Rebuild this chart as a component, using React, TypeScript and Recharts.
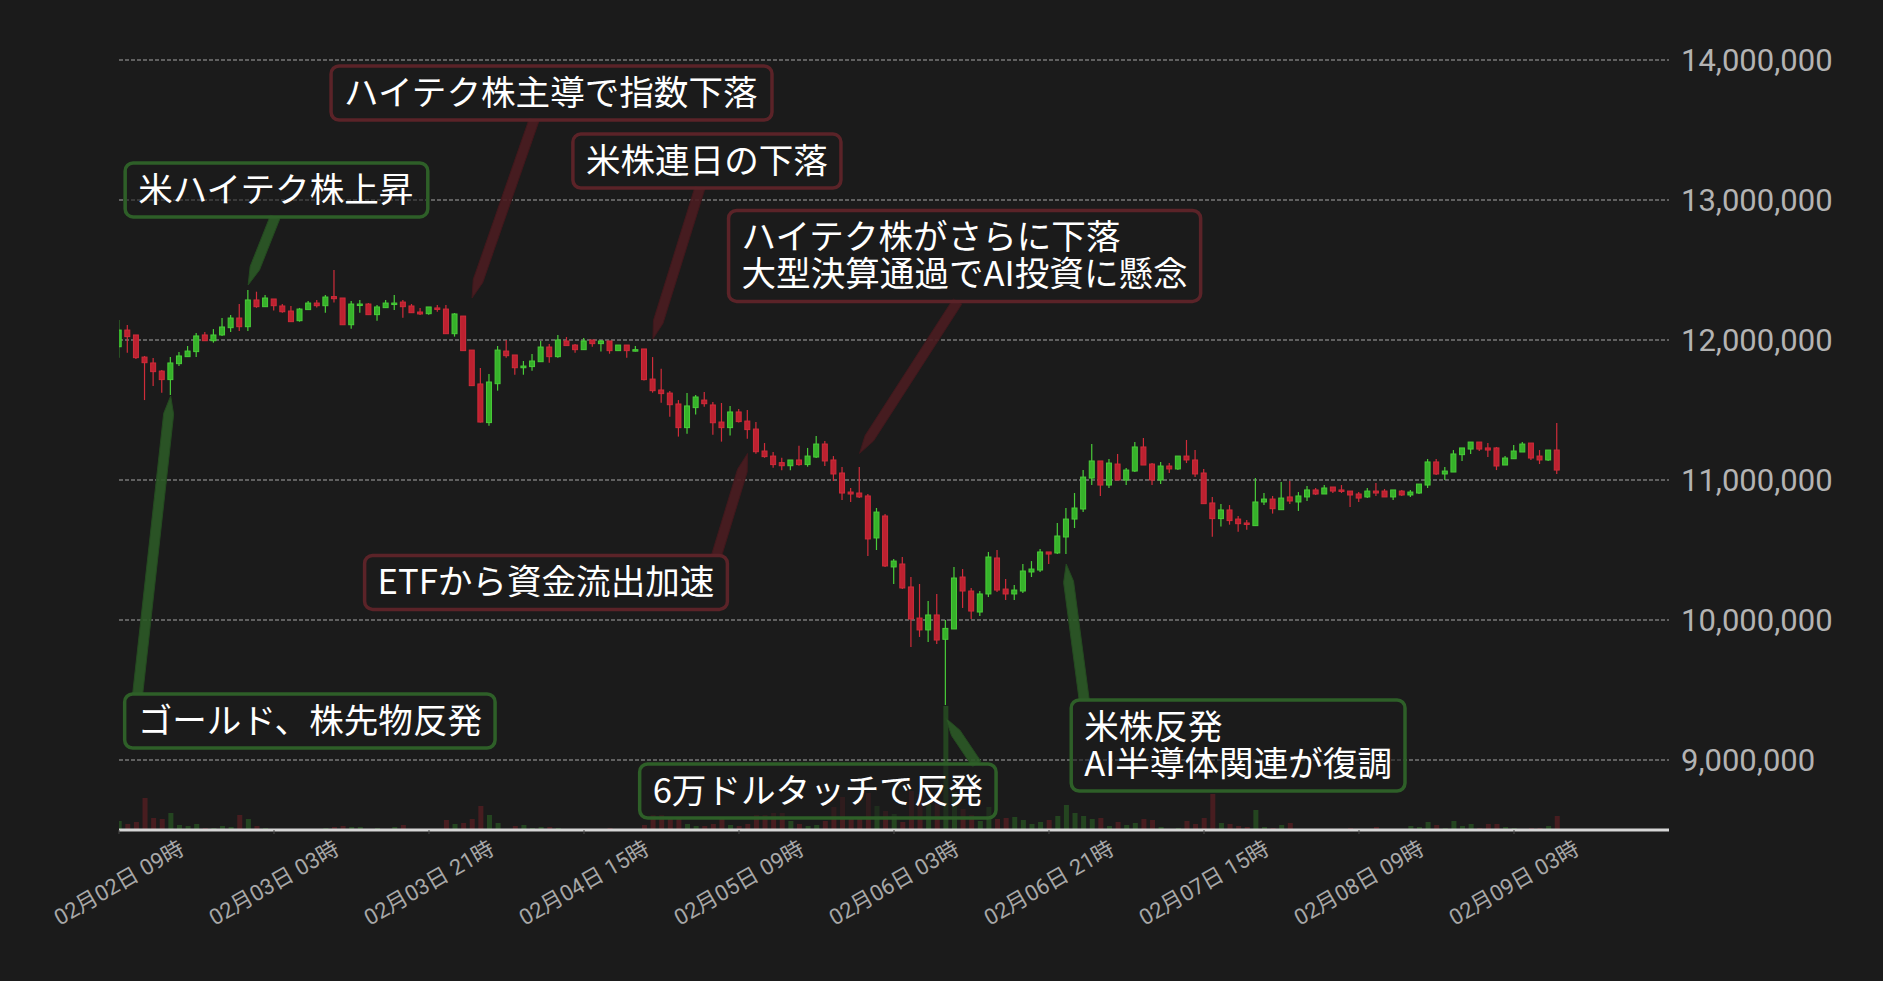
import React from 'react';
import { ComposedChart, Bar, XAxis, YAxis, CartesianGrid, ReferenceDot } from 'recharts';

// Prices in thousands of yen, one candle per hour starting 02月02日 09時
const OPEN = [11952,12071,12036,11878,11836,11778,11717,11831,11881,11917,12036,11995,12036,12088,12157,12095,12286,12238,12293,12243,12207,12138,12217,12264,12245,12310,12300,12109,12255,12257,12181,12231,12262,12271,12243,12200,12188,12229,12221,12045,12171,11928,11686,11410,11688,11921,11893,11802,11810,11845,11950,11881,11993,11964,11931,12000,11974,11993,11924,11964,11924,11936,11721,11643,11621,11543,11374,11517,11571,11536,11414,11374,11486,11421,11364,11207,11171,11124,11102,11143,11110,11164,11257,11143,11050,10914,10907,10886,10586,10743,10379,10400,10236,10014,9929,10036,9862,9936,10307,10207,10057,10186,10443,10221,10186,10207,10343,10357,10486,10479,10593,10721,10793,11014,11136,10964,11114,11000,11064,11236,11114,11000,11100,11079,11171,11143,11050,10836,10724,10786,10721,10693,10674,10843,10864,10788,10879,10843,10879,10929,10900,10950,10929,10921,10900,10879,10921,10921,10879,10921,10893,10907,10964,11129,11043,11057,11181,11221,11271,11229,11229,11107,11152,11200,11264,11171,11143,11214];
const HIGH = [12143,12107,12036,11886,11871,11786,11879,11914,11957,12050,12057,12078,12157,12179,12257,12357,12345,12321,12293,12257,12243,12229,12279,12286,12321,12500,12300,12279,12286,12264,12250,12286,12321,12286,12257,12229,12236,12250,12250,12193,12171,11928,11800,11757,11957,12000,11893,11850,11900,11993,11971,12036,12021,11971,12014,12000,12000,11993,11964,11964,11957,11936,11878,11795,11636,11571,11621,11607,11629,11557,11550,11529,11507,11500,11414,11264,11200,11159,11143,11245,11229,11314,11279,11171,11093,10943,11093,10900,10800,10757,10436,10450,10307,10257,10136,10186,10000,10379,10364,10229,10207,10486,10500,10293,10250,10400,10421,10507,10486,10693,10800,10907,11071,11257,11136,11150,11186,11086,11271,11300,11121,11129,11121,11171,11286,11214,11079,10879,10829,10821,10743,10714,11014,10907,10886,10986,10993,10914,10957,10943,10964,10950,10964,10921,10914,10943,10979,10936,10929,10929,10929,10971,11150,11150,11093,11214,11229,11271,11271,11264,11236,11171,11250,11271,11264,11214,11214,11407];
const LOW = [11874,11909,11864,11571,11671,11624,11607,11814,11881,11879,11995,11981,12029,12057,12064,12064,12230,12238,12210,12195,12131,12131,12217,12233,12195,12267,12109,12081,12195,12181,12138,12231,12214,12159,12195,12179,12181,12202,12045,12024,11924,11674,11410,11388,11638,11874,11752,11752,11781,11845,11838,11874,11960,11909,11931,11952,11917,11902,11924,11874,11917,11710,11624,11552,11452,11310,11331,11467,11524,11324,11274,11317,11410,11295,11188,11159,11088,11070,11070,11102,11095,11157,11100,10993,10857,10843,10871,10457,10500,10379,10257,10221,9807,9879,9843,9829,9393,9936,10086,10007,10029,10164,10200,10143,10143,10193,10307,10343,10400,10471,10471,10657,10771,10964,10886,10943,11000,10964,11057,11107,10964,10971,11050,11071,11121,11021,10831,10595,10667,10681,10631,10645,10674,10821,10760,10788,10829,10779,10850,10893,10900,10907,10907,10807,10843,10871,10886,10879,10857,10886,10879,10900,10943,11036,11000,11057,11136,11186,11207,11164,11071,11107,11152,11200,11143,11114,11136,11043];
const CLOSE = [12071,12024,11874,11838,11774,11717,11836,11886,11921,12029,11995,12036,12093,12157,12095,12286,12238,12300,12245,12202,12131,12221,12264,12245,12307,12295,12109,12257,12257,12181,12236,12264,12264,12238,12195,12186,12236,12224,12045,12186,11924,11674,11414,11700,11928,11888,11802,11814,11850,11950,11881,12000,11960,11931,11993,11974,11993,11924,11964,11924,11931,11717,11638,11617,11538,11374,11529,11593,11545,11409,11374,11486,11417,11360,11202,11167,11110,11102,11143,11110,11171,11257,11136,11043,10907,10900,10879,10579,10771,10386,10421,10229,10007,9929,10036,9857,9940,10300,10207,10064,10186,10450,10214,10186,10214,10350,10364,10486,10471,10600,10721,10800,11021,11136,10964,11121,11000,11071,11236,11107,11000,11100,11079,11171,11143,11043,10831,10724,10786,10710,10688,10688,10843,10864,10795,10871,10850,10886,10929,10900,10943,10921,10921,10893,10871,10921,10907,10879,10929,10893,10914,10971,11129,11043,11064,11186,11229,11271,11221,11214,11100,11157,11207,11257,11157,11143,11214,11071];
const VOLUME = [9,6,8,32,12,11,17,5,4,6,2,2,4,3,15,11,4,2,1,0.5,1,1,0.5,1,2,3,4,3,3,1,2,1,3,5,0.5,1,1,1,10,6,7,11,24,15,7,1,4,5,2,3,3,2,0.5,1,1,1,1,2,1,1,1,5,15,15,11,11,6,4,4,6,11,5,4,6,15,15,17,17,9,6,4,5,9,23,33,12,12,37,24,19,16,8,39,36,26,29,124,38,21,15,9,23,11,12,13,10,6,8,10,14,25,17,14,11,12,4,8,5,7,11,10,3,1,2,9,6,12,36,7,6,4,3,20,3,2,5,7,0.5,1,0.5,0.5,1,0.5,2,0.5,1,3,1,0.5,0.5,4,3,8,5,2,9,4,6,2,6,6,3,2,0.5,2,2,4,14];
const PRICE_UNIT = 1000;

const TICK_HOURS = [0, 18, 36, 54, 72, 90, 108, 126, 144, 162];
const TICK_LABELS = ['02月02日 09時', '02月03日 03時', '02月03日 21時', '02月04日 15時', '02月05日 09時', '02月06日 03時', '02月06日 21時', '02月07日 15時', '02月08日 09時', '02月09日 03時'];
const PRICE_TICKS = [9000000, 10000000, 11000000, 12000000, 13000000, 14000000];

const NOTE_LINES = [
  ['米ハイテク株上昇'],
  ['ハイテク株主導で指数下落'],
  ['米株連日の下落'],
  ['ハイテク株がさらに下落', '大型決算通過でAI投資に懸念'],
  ['ETFから資金流出加速'],
  ['ゴールド、株先物反発'],
  ['6万ドルタッチで反発'],
  ['米株反発', 'AI半導体関連が復調'],
];
const NOTE_HOUR = [15, 41, 62, 86, 73, 6, 96, 110];
const NOTE_PRICE = [12393000, 12300000, 12007000, 11190000, 11190000, 11600000, 9300000, 10400000];
const NOTE_KIND = ['up', 'down', 'down', 'down', 'down', 'up', 'up', 'up'];

// layout of the callout boxes (pixel offsets from the pointed spot)
const NOTE_LAYOUT = [
  { dx: -123, dy: -122, side: 'bottom', bx: 150 },
  { dx: -141, dy: -232, side: 'bottom', bx: 203 },
  { dx: -80, dy: -205, side: 'bottom', bx: 127 },
  { dx: -131, dy: -243, side: 'bottom', bx: 229 },
  { dx: -383, dy: 102, side: 'top', bx: 352 },
  { dx: -46, dy: 298, side: 'top', bx: 13 },
  { dx: -306, dy: 46, side: 'top', bx: 337 },
  { dx: 5, dy: 136, side: 'top', bx: 13 },
];

const BG = '#1b1b1b';
const UP_FILL = '#36b22a';
const UP_EDGE = '#49cc39';
const DOWN_FILL = '#bd2130';
const DOWN_EDGE = '#d02c3a';
const CJK = "'Noto Sans CJK JP', 'Noto Sans', sans-serif";
const NUM_FONT = "Roboto, 'Noto Sans CJK JP', sans-serif";
const NOTE_SIZE = 34.6;
const PAD_X = 13;
const PAD_Y = 8.5;
const LINE_H = 37;

const rows = OPEN.map((o, i) => ({
  t: i,
  open: o * PRICE_UNIT,
  high: HIGH[i] * PRICE_UNIT,
  low: LOW[i] * PRICE_UNIT,
  close: CLOSE[i] * PRICE_UNIT,
  range: [LOW[i] * PRICE_UNIT, HIGH[i] * PRICE_UNIT],
  vol: VOLUME[i],
  up: CLOSE[i] >= o,
}));

let measureCtx: CanvasRenderingContext2D | null = null;
function measure(s: string): number {
  if (!measureCtx && typeof document !== 'undefined') {
    measureCtx = document.createElement('canvas').getContext('2d');
  }
  if (measureCtx) {
    measureCtx.font = `${NOTE_SIZE}px "Noto Sans CJK JP"`;
    return measureCtx.measureText(s).width;
  }
  return s.length * NOTE_SIZE;
}

const Candle = (props: any) => {
  const { x, y, width, height, payload } = props;
  if (x == null || y == null || !payload) return null;
  const span = payload.high - payload.low;
  const k = span > 0 ? height / span : 0;
  const top = Math.max(payload.open, payload.close);
  const bot = Math.min(payload.open, payload.close);
  const by = y + (payload.high - top) * k;
  const bh = Math.max((top - bot) * k, 1.5);
  const cx = x + width / 2;
  const fill = payload.up ? UP_FILL : DOWN_FILL;
  const edge = payload.up ? UP_EDGE : DOWN_EDGE;
  return (
    <g>
      <line x1={cx} x2={cx} y1={y} y2={y + height} stroke={edge} strokeWidth={1.2} />
      <rect x={x + 0.5} y={by} width={width - 1} height={bh} fill={fill} stroke={edge} strokeWidth={1} />
    </g>
  );
};

const VolBar = (props: any) => {
  const { x, y, width, height, payload } = props;
  if (x == null || y == null || !payload || !(height > 0)) return null;
  return (
    <rect x={x} y={y} width={width} height={height}
      fill={payload.up ? 'rgba(60,170,45,0.3)' : 'rgba(190,35,48,0.28)'} />
  );
};

const XTick = (props: any) => {
  const { x, y, payload } = props;
  const idx = TICK_HOURS.indexOf(payload.value);
  const label = idx >= 0 ? TICK_LABELS[idx] : '';
  const cy = y + 47;
  return (
    <text x={x} y={cy} transform={`rotate(-30 ${x} ${cy})`} textAnchor="middle"
      dominantBaseline="central" fill="#a8a8a8" fontSize={22} fontFamily={NUM_FONT}>
      {label}
    </text>
  );
};

const YTick = (props: any) => {
  const { x, y, payload } = props;
  return (
    <text x={x} y={y} textAnchor="start" dominantBaseline="central" fill="#b3b3b3"
      fontSize={31} fontFamily={NUM_FONT}>
      {Number(payload.value).toLocaleString('en-US')}
    </text>
  );
};

function makeNoteShape(i: number) {
  return (p: any) => {
    const cx = p.cx;
    const cy = p.cy;
    if (cx == null || cy == null) return null;
    const lay = NOTE_LAYOUT[i];
    const lines = NOTE_LINES[i];
    const up = NOTE_KIND[i] === 'up';
    const w = Math.max(...lines.map(measure)) + PAD_X * 2;
    const h = lines.length * LINE_H + PAD_Y * 2;
    const left = cx + lay.dx;
    const top = cy + lay.dy;
    const bx = left + lay.bx;
    const by = lay.side === 'top' ? top : top + h;
    const vx = bx - cx;
    const vy = by - cy;
    const len = Math.hypot(vx, vy) || 1;
    const ux = vx / len;
    const uy = vy / len;
    const nx = -uy;
    const ny = ux;
    const hw = 5;
    const taper = 18;
    const pts = [
      [cx, cy],
      [cx + ux * taper + nx * hw, cy + uy * taper + ny * hw],
      [bx + nx * hw, by + ny * hw],
      [bx - nx * hw, by - ny * hw],
      [cx + ux * taper - nx * hw, cy + uy * taper - ny * hw],
    ].map((q) => q.join(',')).join(' ');
    const pFill = up ? '#2c5a27' : '#4b1d21';
    const pEdge = up ? '#244a20' : '#3f181c';
    const border = up ? '#2e5f28' : '#5b2328';
    return (
      <g>
        <polygon points={pts} fill={pFill} fillOpacity={0.9} stroke={pEdge} strokeWidth={1} />
        <rect x={left} y={top} width={w} height={h} rx={8} ry={8}
          fill={BG} fillOpacity={0.55} stroke={border} strokeWidth={3.5} />
        {lines.map((s, k) => (
          <text key={k} x={left + PAD_X} y={top + PAD_Y + LINE_H / 2 - 3 + k * LINE_H}
            dominantBaseline="central" fill="#ffffff" fontSize={NOTE_SIZE} fontFamily={CJK}>
            {s}
          </text>
        ))}
      </g>
    );
  };
}

export default function App() {
  return (
    <div style={{ position: 'absolute', left: 0, top: 0, width: 1883, height: 981, background: BG, overflow: 'hidden' }}>
      <ComposedChart width={1883} height={981} data={rows}
        margin={{ top: 60, right: 0, bottom: 0, left: 119 }}>
        <CartesianGrid xAxisId="p" yAxisId="price" vertical={false} stroke="#a6a6a6"
          strokeDasharray="4 2" strokeWidth={1} />
        <XAxis xAxisId="p" dataKey="t" type="number" domain={[0, 180]} ticks={TICK_HOURS}
          interval={0} allowDataOverflow height={151} tick={<XTick />}
          axisLine={{ stroke: '#d6d6d6', strokeWidth: 3 }} tickLine={{ stroke: '#4a4a4a' }} tickSize={4} />
        <XAxis xAxisId="v" dataKey="t" type="number" domain={[0, 180]} allowDataOverflow hide />
        <YAxis yAxisId="price" orientation="right" domain={[8500000, 14000000]} ticks={PRICE_TICKS}
          interval={0} width={214} axisLine={false} tickLine={false} tickSize={0} tickMargin={12}
          tick={<YTick />} allowDataOverflow />
        <YAxis yAxisId="vol" domain={[0, 770]} hide allowDataOverflow />
        <Bar xAxisId="v" yAxisId="vol" dataKey="vol" barSize={5} shape={VolBar} isAnimationActive={false} />
        <Bar xAxisId="p" yAxisId="price" dataKey="range" barSize={6} shape={Candle} isAnimationActive={false} />
        {NOTE_LINES.map((_, i) => (
          <ReferenceDot key={i} xAxisId="p" yAxisId="price" x={NOTE_HOUR[i]} y={NOTE_PRICE[i]}
            ifOverflow="visible" shape={makeNoteShape(i)} {...({ zIndex: 2000 } as any)} />
        ))}
      </ComposedChart>
    </div>
  );
}
